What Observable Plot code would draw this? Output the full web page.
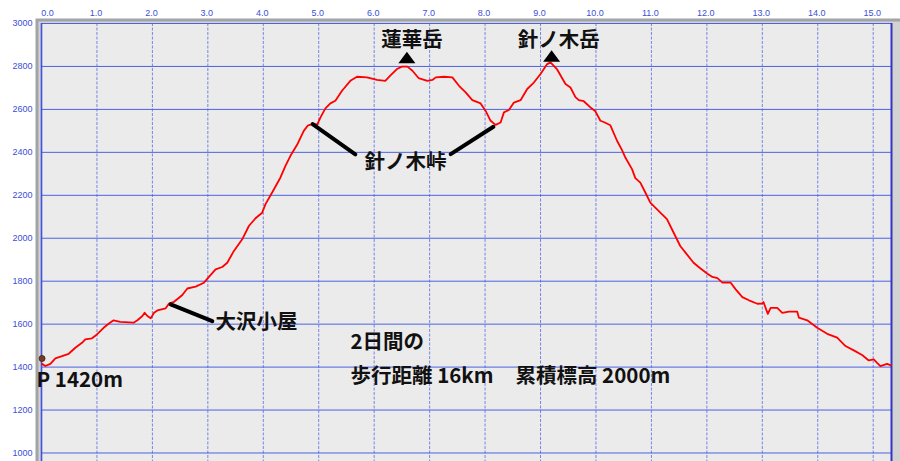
<!DOCTYPE html>
<html>
<head>
<meta charset="utf-8">
<script src="https://cdn.jsdelivr.net/npm/d3@7"></script>
<script src="https://cdn.jsdelivr.net/npm/@observablehq/plot@0.6"></script>
<style>
  html, body { margin: 0; padding: 0; background: #ffffff; }
  #chart svg { display: block; }
</style>
</head>
<body>
<div id="chart"></div>
<script>
// ---- elevation profile (distance km, elevation m) ----
const distKm = [0.01,0.07,0.16,0.25,0.37,0.49,0.61,0.73,0.79,0.91,1.00,1.12,1.21,1.30,1.42,1.66,1.73,1.82,1.86,1.91,1.97,2.03,2.09,2.24,2.30,2.39,2.48,2.54,2.63,2.78,2.93,3.02,3.14,3.26,3.35,3.47,3.62,3.74,3.86,3.98,4.04,4.16,4.31,4.40,4.49,4.61,4.73,4.80,4.91,4.97,5.03,5.12,5.21,5.30,5.42,5.57,5.69,5.87,6.05,6.20,6.29,6.41,6.50,6.60,6.69,6.80,6.96,7.05,7.11,7.26,7.41,7.53,7.65,7.77,7.92,8.01,8.10,8.19,8.28,8.34,8.43,8.52,8.64,8.76,8.88,9.00,9.12,9.18,9.30,9.45,9.54,9.63,9.69,9.78,9.90,9.99,10.08,10.15,10.26,10.38,10.47,10.53,10.65,10.71,10.80,10.89,10.98,11.07,11.28,11.37,11.52,11.64,11.76,11.88,12.01,12.10,12.19,12.28,12.43,12.52,12.64,12.76,12.91,13.00,13.02,13.10,13.15,13.27,13.36,13.48,13.63,13.66,13.81,13.99,14.17,14.35,14.50,14.65,14.80,14.92,15.01,15.07,15.13,15.25,15.32];
const elevM  = [1415,1405,1415,1441,1451,1462,1490,1513,1529,1534,1552,1583,1602,1618,1611,1607,1618,1638,1653,1638,1627,1653,1664,1674,1696,1704,1723,1736,1766,1775,1793,1820,1855,1866,1886,1941,1995,2057,2093,2119,2159,2213,2283,2337,2384,2435,2500,2524,2534,2528,2562,2605,2628,2640,2687,2733,2752,2749,2737,2733,2757,2788,2799,2799,2780,2746,2733,2737,2749,2752,2749,2710,2679,2643,2628,2593,2547,2528,2539,2586,2597,2632,2643,2695,2725,2765,2811,2819,2786,2718,2702,2657,2643,2638,2609,2591,2547,2540,2526,2454,2410,2376,2322,2280,2259,2213,2166,2143,2089,2042,1964,1925,1886,1860,1835,1820,1814,1793,1793,1762,1726,1711,1695,1696,1703,1648,1676,1676,1653,1658,1658,1630,1618,1583,1555,1537,1498,1478,1456,1431,1436,1420,1405,1415,1408];

// ---- axis ticks ----
const xTicks = [0,1,2,3,4,5,6,7,8,9,10,11,12,13,14,15];
const yTicks = [1000,1200,1400,1600,1800,2000,2200,2400,2600,2800,3000];

// ---- annotations ----
const peakNames = ["蓮華岳", "針ノ木岳"];
const peakLabelKm = [6.68, 9.33];
const peakLabelElev = [2922, 2922];
const peakMarkKm = [6.59, 9.20];
const peakMarkElev = [2841, 2847];

const passName = "針ノ木峠";
const passLabelKm = 6.565;
const passLabelElev = 2352;
const passLeaderX1 = [4.89, 7.38];
const passLeaderY1 = [2531, 2392];
const passLeaderX2 = [5.66, 8.15];
const passLeaderY2 = [2391, 2519];

const hutName = "大沢小屋";
const hutLabelKm = 3.14;
const hutLabelElev = 1610;
const hutLeaderX = [2.33, 3.08];
const hutLeaderY = [1692, 1614];

const startLabel = "P 1420m";
const startLabelKm = -0.09;
const startLabelElev = 1336;

const summaryLines = ["2日間の", "歩行距離 16km", "累積標高 2000m"];
const summaryKm = [5.573, 5.573, 8.548];
const summaryElev = [1513, 1356, 1356];

// ---- build tables ----
const profile = distKm.map((d, i) => ({km: d, elev: elevM[i]}));
const peaks = peakNames.map((n, i) => ({name: n, km: peakLabelKm[i], elev: peakLabelElev[i], mk: peakMarkKm[i], me: peakMarkElev[i]}));
const passLinks = passLeaderX1.map((x, i) => ({x1: x, y1: passLeaderY1[i], x2: passLeaderX2[i], y2: passLeaderY2[i]}));
const summary = summaryLines.map((t, i) => ({t, km: summaryKm[i], elev: summaryElev[i]}));

const triangle = {
  draw(ctx) {
    ctx.moveTo(0, -6);
    ctx.lineTo(8.5, 5.5);
    ctx.lineTo(-8.5, 5.5);
    ctx.closePath();
  }
};

const jp = "'Noto Sans CJK JP', 'Noto Sans', sans-serif";
const tickFont = "'Liberation Sans', Arial, sans-serif";
const tickColor = "#3a4fd8";
const fs = 20.5;

const chart = Plot.plot({
  width: 900,
  height: 461,
  marginTop: 23,
  marginLeft: 41,
  marginRight: 9,
  marginBottom: 0,
  x: {domain: [0, 15.33]},
  y: {domain: [960.4, 3000]},
  style: {background: "#ffffff", overflow: "visible"},
  marks: [
    // window-like frame
    Plot.frame({fill: "#a4a4a4", stroke: null, insetLeft: -6, insetTop: -5, insetRight: -9, insetBottom: -20}),
    Plot.frame({fill: "#d2d2d2", stroke: null, insetLeft: -3, insetTop: -2, insetRight: -9, insetBottom: -20}),
    Plot.frame({fill: "#ebebeb", stroke: null, insetBottom: -20}),
    // grid
    Plot.ruleX(xTicks.slice(1), {stroke: "#7585e6", strokeWidth: 1, strokeDasharray: "3,1.5"}),
    Plot.ruleY(yTicks, {stroke: "#4c62e2", strokeWidth: 1}),
    Plot.ruleX([0], {stroke: "#3e52e0", strokeWidth: 1.6}),
    Plot.ruleX([15.33], {stroke: "#3434c8", strokeWidth: 2}),
    // axes
    Plot.axisY(yTicks, {anchor: "left", tickSize: 0, tickPadding: 9, fontSize: 9, fontFamily: tickFont, fill: tickColor, tickFormat: d => String(d)}),
    Plot.axisX([0], {anchor: "top", tickSize: 0, tickPadding: 8, dx: 6, fontSize: 9, fontFamily: tickFont, fill: tickColor, tickFormat: d => d.toFixed(1)}),
    Plot.axisX(xTicks.slice(1), {anchor: "top", tickSize: 0, tickPadding: 8, dx: -1, fontSize: 9, fontFamily: tickFont, fill: tickColor, tickFormat: d => d.toFixed(1)}),
    // profile
    Plot.line(profile, {x: "km", y: "elev", stroke: "#ff0000", strokeWidth: 1.8, strokeLinejoin: "round"}),
    // start marker
    Plot.dot([profile[0]], {x: "km", y: d => d.elev + 25, r: 3, fill: "#7a3a22", stroke: "#3a2010", strokeWidth: 0.8}),
    // leaders
    Plot.link(passLinks, {x1: "x1", y1: "y1", x2: "x2", y2: "y2", stroke: "#000", strokeWidth: 4, strokeLinecap: "round"}),
    Plot.link([{x1: hutLeaderX[0], y1: hutLeaderY[0], x2: hutLeaderX[1], y2: hutLeaderY[1]}], {x1: "x1", y1: "y1", x2: "x2", y2: "y2", stroke: "#000", strokeWidth: 4, strokeLinecap: "round"}),
    // peaks
    Plot.dot(peaks, {x: "mk", y: "me", symbol: triangle, r: 7, fill: "#000", stroke: null}),
    Plot.text(peaks, {x: "km", y: "elev", text: "name", fontSize: fs, fontWeight: "bold", fontFamily: jp, fill: "#111"}),
    Plot.text([passName], {x: passLabelKm, y: passLabelElev, text: d => d, fontSize: fs, fontWeight: "bold", fontFamily: jp, fill: "#111"}),
    Plot.text([hutName], {x: hutLabelKm, y: hutLabelElev, text: d => d, textAnchor: "start", fontSize: fs, fontWeight: "bold", fontFamily: jp, fill: "#111"}),
    Plot.text([startLabel], {x: startLabelKm, y: startLabelElev, text: d => d, textAnchor: "start", fontSize: fs, fontWeight: "bold", fontFamily: jp, fill: "#111"}),
    Plot.text(summary, {x: "km", y: "elev", text: "t", textAnchor: "start", fontSize: fs, fontWeight: "bold", fontFamily: jp, fill: "#111"})
  ]
});

document.getElementById("chart").appendChild(chart);
</script>
</body>
</html>
